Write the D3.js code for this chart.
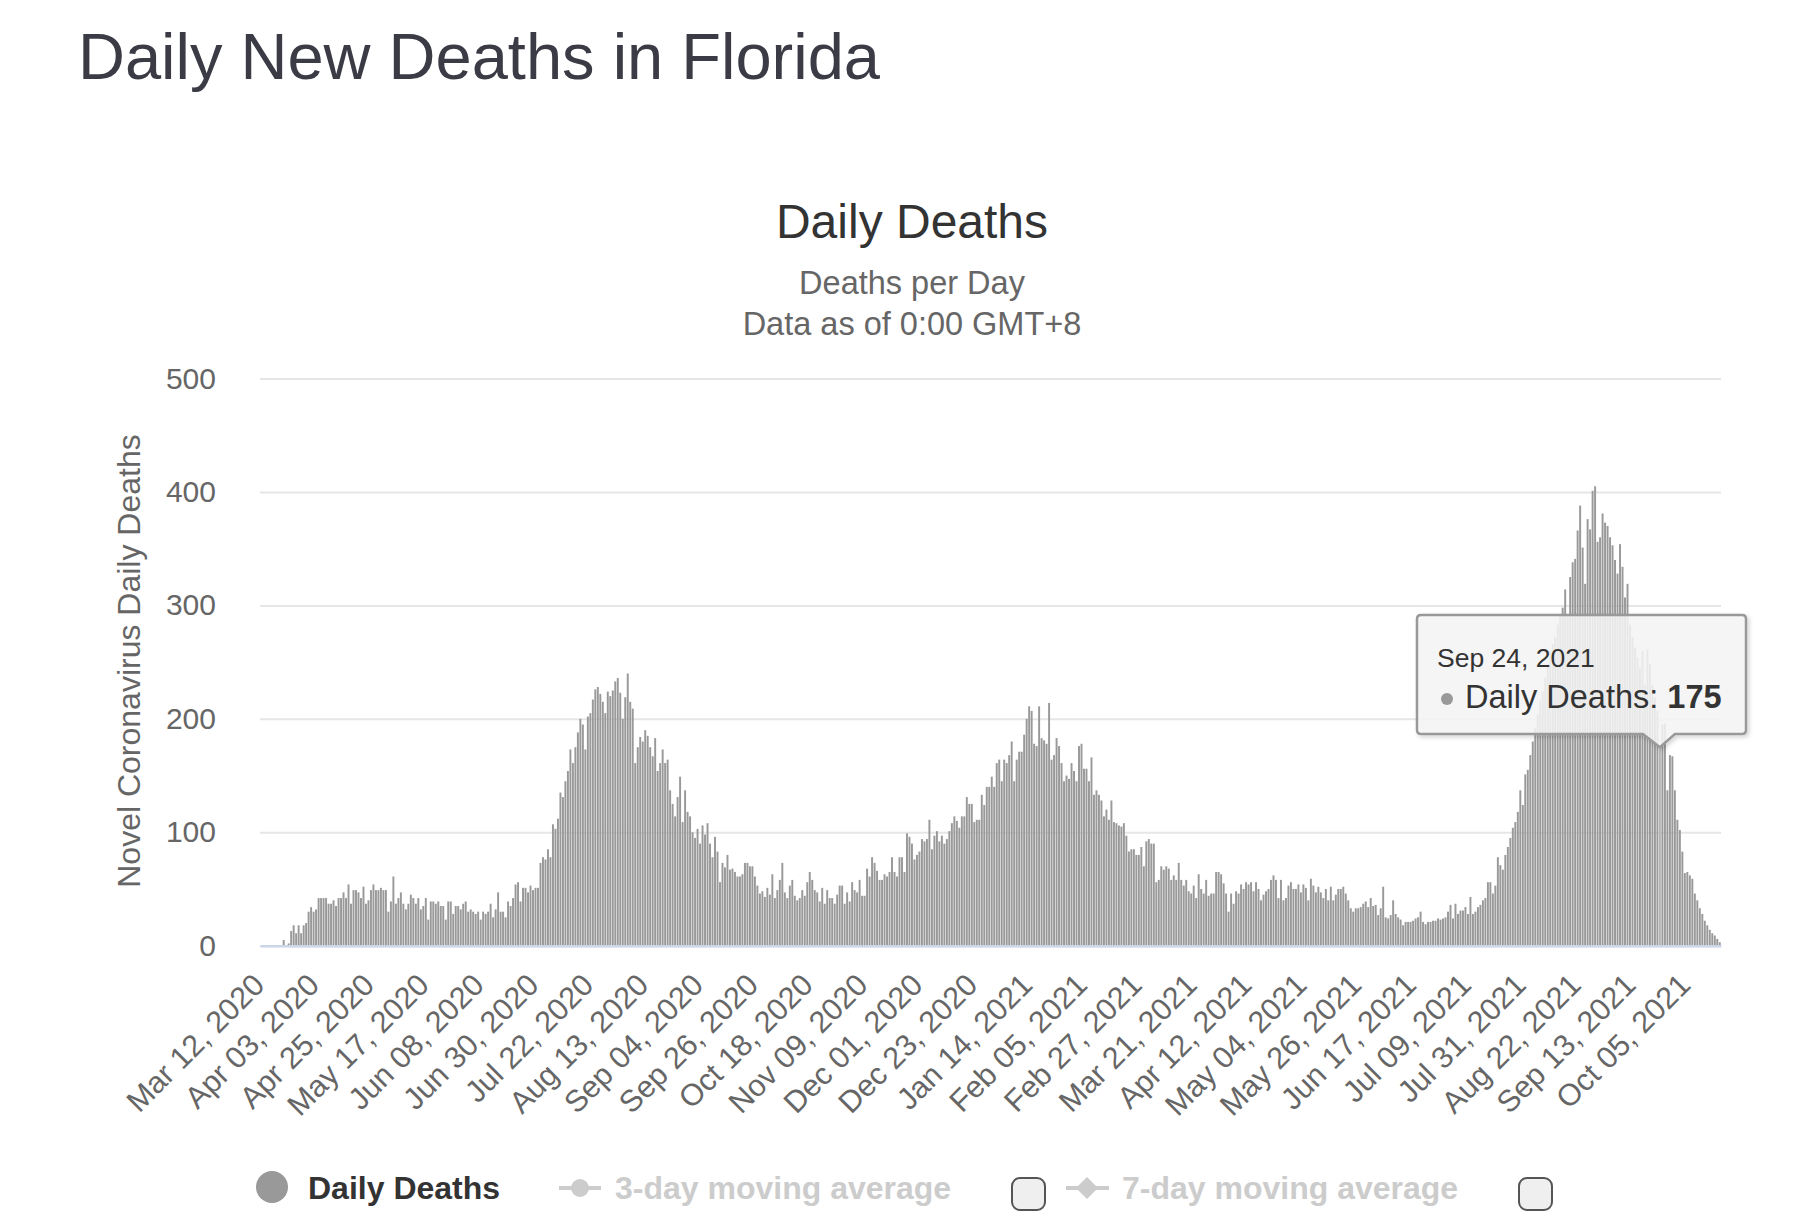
<!DOCTYPE html>
<html><head><meta charset="utf-8">
<script src="https://cdn.jsdelivr.net/npm/d3@7"></script>
<style>
body{margin:0;background:#fff;}
svg{display:block;font-family:"Liberation Sans",Arial,Helvetica,sans-serif;}
</style>
</head><body>
<svg id="chart" width="1815" height="1217"></svg>
<script>
// ---------- DATA ----------
const startDate = "2020-03-12";
const deathsMarJun2020 = [0,0,0,0,0,0,0,0,0,
5,0,2,13,18,11,18,11,18,20,
30,34,30,32,42,42,42,42,37,37,
40,35,42,42,47,42,54,37,49,49,
47,42,52,37,40,49,54,49,49,51,
49,49,30,39,61,37,42,47,37,32,
37,45,42,37,42,32,35,42,23,39,
39,37,39,35,35,23,39,39,28,35,
35,32,37,39,30,32,30,28,30,23,
30,28,30,37,25,32,47,30,30,25,
39,35,42,54,56,39,51];
const deathsJunOct2020 = [51,47,53,49,51,51,73,78,76,85,
78,107,103,112,135,131,145,154,173,161,
175,188,200,195,173,202,205,217,226,228,
222,215,205,224,220,225,233,236,223,200,
219,240,215,209,161,175,184,180,190,185,
175,167,183,154,161,173,161,164,137,125,
114,131,149,109,137,118,114,100,95,103,
90,106,98,108,90,78,96,83,56,73,
69,80,67,68,65,61,61,63,73,73,
70,70,61,53,46,48,43,51,45];
const deathsOctDec2020 = [63,42,49,58,73,47,42,53,58,44,40,
42,49,44,56,65,58,49,47,39,51,37,49,42,42,37,45,
53,53,37,47,39,56,49,47,58,44,44,68,61,78,73,66,
58,58,63,61,65,78,65,61,78,78,65,99,96,90,76,80,
83,94,92,94,111,85,97,101,92,97,90,94,101,108,114,110,
104,114,114,131,125,125,109,111,111,133,124,140,140];
const deathsDec2020Apr2021 = [149,140,161,164,145,164,161,168,180,145,
164,171,171,186,200,211,207,178,176,211,
183,181,178,214,164,168,183,176,161,145,
150,147,161,154,145,176,178,156,156,145,
166,133,137,133,128,114,120,111,128,109,
108,106,105,108,97,83,85,85,80,80,
87,70,92,94,90,90,56,58,70,67,
70,68,58,62,58,73,58,53,58,48,
46,53,42,63,50,46,58,44,46,46,
65,65,63,55,46,30,46,37,48,46];
const deathsAprJul2021 = [54,50,56,54,56,48,56,50,40,45,48,
50,58,62,58,42,58,40,42,53,56,
50,50,54,47,54,51,40,59,53,47,52,
47,42,50,40,52,40,45,50,50,52,46,
40,33,30,33,33,34,37,39,34,42,35,
36,27,33,52,25,24,27,40,28,25,23,
18,21,21,21,22,24,25,30,21,19,
21,21,22,22,24,23,24,25,30,36,24,
37,28,31,31,34,28,43,28,30,34,36,
40,42,56,56,46,53];
const deathsJulOct2021 = [78,71,67,80,87,95,104,109,118,137,
124,151,155,168,180,192,204,216,224,236,
248,260,266,272,283,292,298,314,292,325,
338,341,366,388,351,319,376,367,401,405,
356,360,381,373,370,360,353,340,328,354,
334,307,319,283,272,263,254,245,260,230,
261,248,230,219,207,175,
195,196,137,168,167,137,111,102,83,64,
65,62,59,46,40,33,28,22,18,14,
11,9,6,3];
const tickLabels = ["Mar 12, 2020","Apr 03, 2020","Apr 25, 2020","May 17, 2020","Jun 08, 2020","Jun 30, 2020","Jul 22, 2020","Aug 13, 2020","Sep 04, 2020","Sep 26, 2020","Oct 18, 2020","Nov 09, 2020","Dec 01, 2020","Dec 23, 2020","Jan 14, 2021","Feb 05, 2021","Feb 27, 2021","Mar 21, 2021","Apr 12, 2021","May 04, 2021","May 26, 2021","Jun 17, 2021","Jul 09, 2021","Jul 31, 2021","Aug 22, 2021","Sep 13, 2021","Oct 05, 2021"];
const yTicks = [0,100,200,300,400,500];
const tooltipDate = "Sep 24, 2021";
const seriesName = "Daily Deaths";
const legendItems = ["Daily Deaths","3-day moving average","7-day moving average"];

// ---------- BUILD ----------
const values = [].concat(deathsMarJun2020, deathsJunOct2020, deathsOctDec2020,
  deathsDec2020Apr2021, deathsAprJul2021, deathsJulOct2021);
const fmt = d3.timeFormat("%b %d, %Y");
const start = d3.timeParse("%Y-%m-%d")(startDate);
const categories = values.map((v,i)=>fmt(d3.timeDay.offset(start,i)));
const data = values.map((v,i)=>({i, v, label:categories[i]}));

const svg = d3.select("#chart");
const L=260, R=1721, T=378.5, B=945.7;

// page title
svg.append("text").attr("x",78).attr("y",79).attr("font-size",65)
  .attr("fill","#3a3b45").text("Daily New Deaths in Florida");
// chart title & subtitle
svg.append("text").attr("x",912).attr("y",238).attr("text-anchor","middle")
  .attr("font-size",48).attr("fill","#333").text("Daily Deaths");
svg.append("text").attr("x",912).attr("y",294).attr("text-anchor","middle")
  .attr("font-size",32.5).attr("fill","#666").text("Deaths per Day");
svg.append("text").attr("x",912).attr("y",335).attr("text-anchor","middle")
  .attr("font-size",32.5).attr("fill","#666").text("Data as of 0:00 GMT+8");

const x = d3.scaleBand().domain(d3.range(values.length)).range([L,R])
  .paddingInner(0.22).paddingOuter(0.11);
const y = d3.scaleLinear().domain([0,500]).range([B,T]);

// grid
const grid = svg.append("g").attr("transform",`translate(${L},0)`)
  .call(d3.axisLeft(y).tickValues(yTicks).tickSize(-(R-L)).tickFormat(""));
grid.select(".domain").remove();
grid.selectAll("line").attr("stroke","#e6e6e6").attr("stroke-width",2);

// y labels
const ya = svg.append("g").attr("transform",`translate(${L},0)`)
  .call(d3.axisLeft(y).tickValues(yTicks).tickSize(0).tickPadding(44));
ya.select(".domain").remove();
ya.selectAll("text").attr("font-size",30).attr("fill","#666")
  .attr("font-family","Liberation Sans, Arial, sans-serif");

// y title
svg.append("text").attr("transform","translate(140,661) rotate(-90)")
  .attr("text-anchor","middle").attr("font-size",32).attr("fill","#666")
  .text("Novel Coronavirus Daily Deaths");

// bars
const tipIdx = categories.indexOf(tooltipDate);
svg.append("g").selectAll("rect").data(data).join("rect")
  .attr("x",d=>x(d.i)).attr("width",x.bandwidth())
  .attr("y",d=>y(d.v)).attr("height",d=>y(0)-y(d.v))
  .attr("fill",d=>d.i===tipIdx?"#b5b5b5":"#999");

// x axis
const tickIdx = tickLabels.map(t=>categories.indexOf(t));
const xa = svg.append("g").attr("transform",`translate(0,${B})`)
  .call(d3.axisBottom(x).tickValues(tickIdx).tickFormat(i=>categories[i]).tickSize(0).tickSizeOuter(0));
xa.select(".domain").attr("stroke","#ccd6eb").attr("stroke-width",2.6);
xa.selectAll("text").attr("font-size",30.5).attr("fill","#666")
  .attr("font-family","Liberation Sans, Arial, sans-serif")
  .attr("text-anchor","end").attr("x",null).attr("y",null).attr("dy",null)
  .attr("transform","translate(5,41) rotate(-45)");

// legend
const lg = svg.append("g");
lg.append("circle").attr("cx",272).attr("cy",1187).attr("r",16).attr("fill","#999");
lg.append("text").attr("x",308).attr("y",1199).attr("font-size",32).attr("font-weight","bold")
  .attr("fill","#333").text(legendItems[0]);
lg.append("line").attr("x1",559).attr("x2",601).attr("y1",1188).attr("y2",1188)
  .attr("stroke","#ccc").attr("stroke-width",4);
lg.append("circle").attr("cx",580).attr("cy",1188).attr("r",9).attr("fill","#ccc");
lg.append("text").attr("x",615).attr("y",1199).attr("font-size",32).attr("font-weight","bold")
  .attr("fill","#ccc").text(legendItems[1]);
lg.append("rect").attr("x",1012).attr("y",1178).attr("width",33).attr("height",32).attr("rx",8)
  .attr("fill","#efefef").attr("stroke","#555").attr("stroke-width",2);
lg.append("line").attr("x1",1066).attr("x2",1109).attr("y1",1188).attr("y2",1188)
  .attr("stroke","#ccc").attr("stroke-width",4);
lg.append("path").attr("d","M1087,1177 L1098,1188 L1087,1199 L1076,1188 Z").attr("fill","#ccc");
lg.append("text").attr("x",1122).attr("y",1199).attr("font-size",32).attr("font-weight","bold")
  .attr("fill","#ccc").text(legendItems[2]);
lg.append("rect").attr("x",1519).attr("y",1178).attr("width",33).attr("height",32).attr("rx",8)
  .attr("fill","#efefef").attr("stroke","#555").attr("stroke-width",2);

// tooltip
const defs = svg.append("defs");
const f = defs.append("filter").attr("id","sh").attr("x","-10%").attr("y","-10%").attr("width","130%").attr("height","140%");
f.append("feDropShadow").attr("dx",2).attr("dy",2).attr("stdDeviation",2).attr("flood-color","#000").attr("flood-opacity",0.18);
const tx = x(tipIdx)+x.bandwidth()/2, ty = y(values[tipIdx]);
const bx0=1417, bx1=1746, by0=615, by1=734, r=4;
const tipPath = `M${bx0+r},${by0} L${bx1-r},${by0} Q${bx1},${by0} ${bx1},${by0+r} L${bx1},${by1-r} Q${bx1},${by1} ${bx1-r},${by1} L${tx+15},${by1} L${tx},${ty} L${tx-17},${by1} L${bx0+r},${by1} Q${bx0},${by1} ${bx0},${by1-r} L${bx0},${by0+r} Q${bx0},${by0} ${bx0+r},${by0} Z`;
const tg = svg.append("g");
tg.append("path").attr("d",tipPath).attr("fill","rgba(247,247,247,0.85)")
  .attr("stroke","#999").attr("stroke-width",2.5).attr("filter","url(#sh)");
tg.append("text").attr("x",1437).attr("y",667).attr("font-size",26.5).attr("fill","#333").text(categories[tipIdx]);
tg.append("circle").attr("cx",1447).attr("cy",699).attr("r",6).attr("fill","#999");
const t2 = tg.append("text").attr("x",1465).attr("y",708).attr("font-size",32.5).attr("fill","#333");
t2.append("tspan").text(seriesName+": ");
t2.append("tspan").attr("font-weight","bold").text(values[tipIdx]);
</script>
</body></html>
